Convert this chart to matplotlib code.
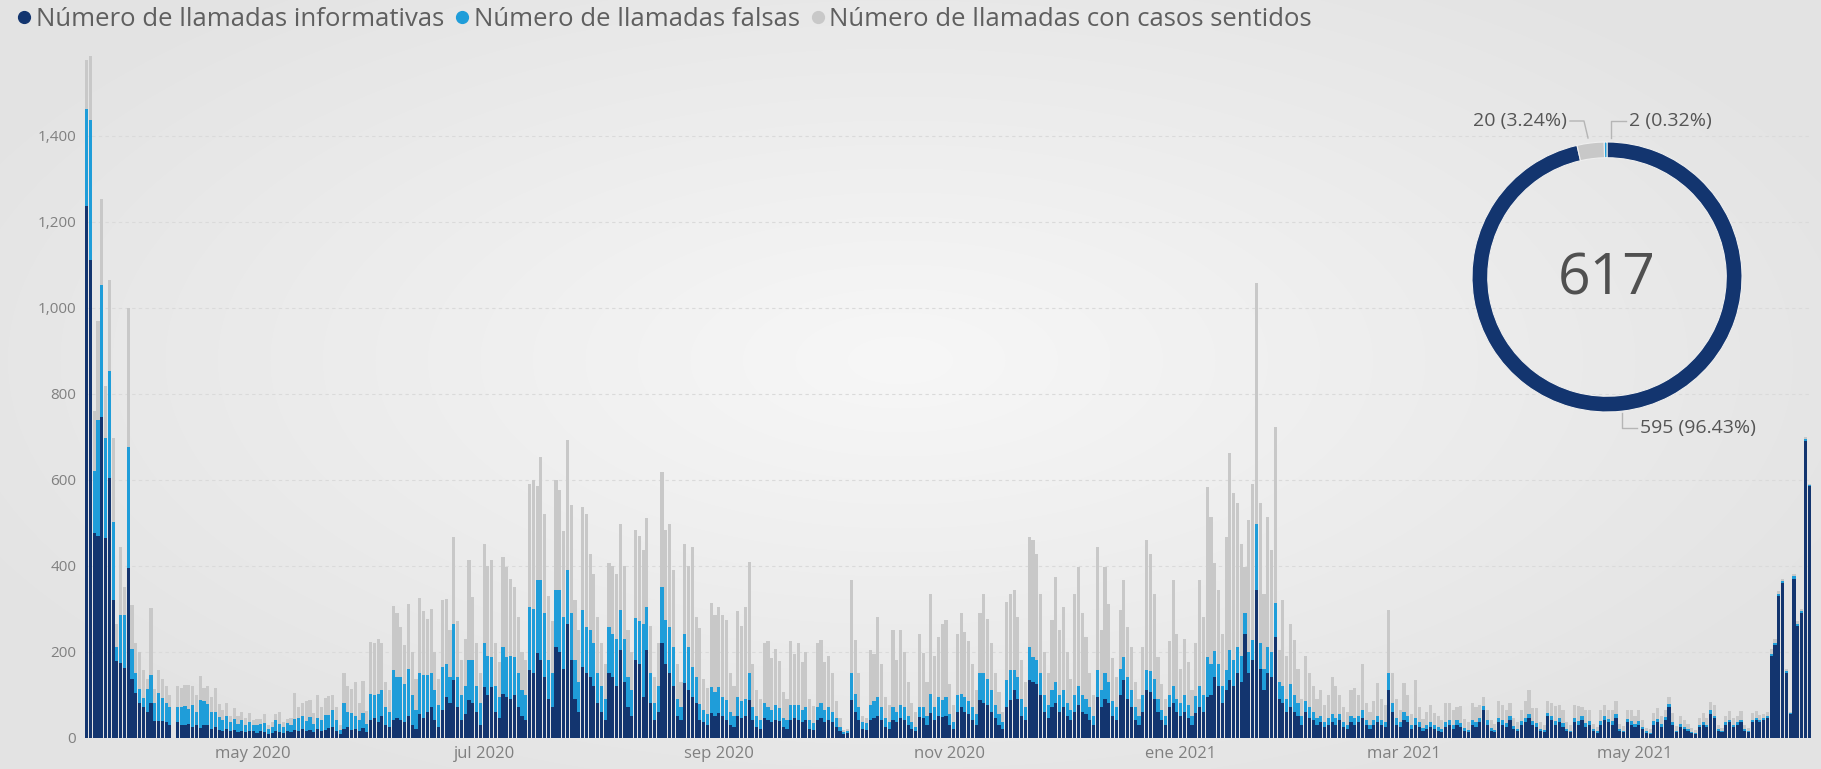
import numpy as np
import pandas as pd
import matplotlib
matplotlib.use("Agg")
import matplotlib.pyplot as plt
import matplotlib.dates as mdates
from matplotlib.lines import Line2D

plt.rcParams['font.family'] = ['Open Sans', 'DejaVu Sans']

# daily series, first bar = 2020-03-18
start_date = "2020-03-18"

informativas = [
    1236, 1112, 475, 470, 745, 464, 605, 319, 178, 173, 162, 394, 135, 103,
    81, 70, 59, 81, 38, 38, 38, 35, 30, 0, 35, 30, 28, 32, 25, 30, 22, 30, 28, 20, 25, 18, 15, 20, 15, 18, 12, 15, 12, 15,
    15, 10, 14, 12, 8, 10, 15, 12, 10, 14, 12, 18, 15, 20, 14, 18, 12, 20, 15, 18, 22, 25, 15, 8, 20, 25, 18, 20, 15, 22, 12,
    40, 45, 35, 50, 30, 25, 40, 45, 40, 35, 50, 30, 20, 55, 45, 60, 70, 40, 25, 65, 95, 80, 133, 70, 40, 55, 87, 80, 60, 30,
    118, 100, 118, 60, 45, 102, 95, 90, 100, 70, 50, 40, 157, 150, 196, 180, 140, 90, 70, 211, 200, 160, 265, 180, 90, 60, 164, 150, 140, 120, 80,
    60, 40, 149, 140, 120, 203, 130, 70, 50, 180, 170, 95, 203, 80, 40, 60, 219, 172, 149, 120, 50, 40, 126, 110, 95, 80, 40, 35, 30, 56, 50,
    56, 50, 40, 30, 25, 50, 45, 50, 87, 40, 25, 20, 45, 40, 35, 40, 38, 25, 20, 40, 45, 40, 35, 40, 20, 18, 40, 45, 35, 40,
    35, 25, 15, 8, 10, 87, 60, 40, 20, 18, 40, 45, 50, 40, 25, 20, 40, 35, 45, 40, 30, 20, 15, 48, 45, 30, 56, 40, 50, 48, 50,
    30, 20, 60, 71, 60, 55, 40, 30, 87, 80, 75, 60, 45, 30, 20, 70, 87, 110, 90, 50, 40, 133, 130, 125, 100, 60, 45, 70, 80, 60,
    70, 50, 40, 60, 75, 60, 55, 40, 30, 95, 70, 90, 80, 50, 40, 100, 133, 90, 70, 40, 30, 60, 110, 105, 90, 60, 40, 30, 70, 80, 60,
    50, 60, 45, 30, 56, 70, 60, 95, 100, 141, 120, 80, 110, 133, 120, 150, 130, 242, 150, 180, 343, 160, 110, 149, 140, 234, 90, 80, 60, 70, 60,
    50, 30, 60, 45, 40, 30, 35, 25, 30, 35, 30, 40, 25, 20, 35, 30, 35, 45, 30, 20, 30, 35, 30, 25, 110, 60, 30, 25,
    40, 35, 20, 30, 25, 15, 20, 25, 20, 15, 12, 25, 30, 20, 30, 25, 15, 12, 30, 25, 35, 64, 30, 15, 12, 35, 30, 25, 40, 20, 15,
    30, 35, 45, 30, 25, 15, 12, 50, 40, 30, 35, 25, 15, 12, 35, 30, 40, 25, 30, 15, 10, 30, 40, 35, 30, 45, 15, 12, 35, 30,
    25, 30, 20, 10, 8, 30, 35, 25, 40, 70, 30, 12, 25, 20, 15, 10, 8, 25, 30, 25, 55, 45, 15, 12, 30, 35, 25, 30, 35, 15, 12,
    35, 40, 35, 40, 45, 190, 215, 330, 360, 150, 55, 370, 260, 290, 690, 585,
]

falsas = [
    227, 324, 146, 270, 308, 233, 248, 183, 32, 113, 124, 281, 70, 48,
    32, 22, 54, 65, 43, 65, 54, 45, 40, 0, 35, 40, 45, 35, 50, 30, 65, 55, 50, 40, 35, 30, 25, 30, 20, 25, 20, 25, 18, 20,
    15, 20, 18, 22, 12, 15, 25, 20, 15, 20, 18, 25, 30, 30, 25, 30, 20, 25, 25, 35, 30, 40, 25, 10, 60, 35, 40, 30, 25, 35, 20,
    62, 55, 67, 60, 40, 35, 117, 95, 100, 90, 110, 70, 45, 95, 100, 85, 80, 70, 50, 100, 77, 60, 132, 70, 60, 65, 93, 100, 60, 50,
    101, 90, 70, 60, 50, 109, 93, 100, 88, 80, 60, 60, 147, 150, 170, 186, 149, 90, 80, 132, 143, 120, 124, 110, 90, 70, 132, 108, 110, 100, 70,
    60, 50, 109, 100, 110, 93, 100, 70, 60, 97, 100, 170, 101, 70, 40, 60, 132, 101, 109, 90, 40, 30, 116, 100, 69, 60, 39, 30, 25, 62, 55,
    62, 45, 47, 30, 25, 45, 40, 40, 62, 30, 25, 20, 35, 30, 30, 35, 30, 20, 20, 35, 30, 35, 30, 30, 20, 15, 30, 35, 30, 30,
    25, 20, 10, 5, 5, 62, 42, 30, 15, 15, 35, 40, 45, 30, 20, 15, 30, 25, 30, 30, 20, 15, 10, 23, 25, 20, 46, 30, 45, 40, 45,
    25, 15, 40, 31, 35, 30, 30, 25, 62, 69, 60, 50, 30, 25, 15, 63, 70, 47, 50, 40, 30, 78, 58, 55, 50, 40, 30, 40, 50, 40,
    40, 30, 25, 40, 45, 40, 35, 30, 20, 62, 40, 59, 50, 35, 30, 60, 55, 50, 40, 30, 20, 40, 47, 50, 45, 30, 25, 20, 30, 40, 30,
    30, 40, 30, 20, 40, 50, 40, 93, 72, 60, 50, 40, 47, 70, 60, 61, 60, 47, 50, 47, 155, 60, 50, 62, 60, 78, 40, 40, 30, 54, 40,
    30, 20, 25, 25, 20, 15, 15, 10, 15, 20, 15, 15, 10, 10, 15, 15, 15, 20, 10, 10, 10, 15, 10, 10, 39, 20, 15, 10,
    20, 15, 10, 15, 10, 8, 10, 10, 8, 10, 8, 10, 10, 8, 10, 8, 8, 6, 10, 10, 10, 10, 10, 6, 5, 10, 10, 8, 10, 6, 5,
    8, 10, 10, 8, 8, 5, 5, 8, 10, 8, 10, 8, 5, 4, 10, 8, 10, 8, 8, 5, 4, 8, 10, 8, 8, 10, 5, 4, 8, 8,
    6, 8, 5, 4, 3, 8, 8, 6, 8, 8, 6, 4, 6, 5, 4, 3, 3, 5, 6, 5, 8, 6, 4, 3, 6, 6, 5, 5, 6, 4, 3,
    6, 6, 5, 5, 5, 5, 5, 5, 5, 5, 3, 5, 5, 5, 5, 3,
]

sentidos = [
    114, 150, 140, 230, 200, 120, 211, 195, 55, 157, 65, 324, 103, 70,
    87, 65, 22, 156, 32, 54, 43, 40, 30, 0, 50, 45, 50, 55, 45, 40, 55, 30, 42, 35, 55, 30, 25, 30, 15, 25, 18, 20, 15, 22,
    10, 12, 10, 20, 8, 10, 15, 28, 12, 10, 15, 60, 25, 30, 45, 40, 25, 55, 30, 40, 45, 35, 30, 10, 70, 60, 55, 80, 40, 75, 30,
    121, 120, 128, 110, 60, 50, 150, 150, 118, 90, 150, 100, 70, 175, 150, 130, 150, 90, 60, 155, 150, 110, 202, 130, 80, 110, 233, 147, 100, 70,
    232, 210, 225, 100, 80, 209, 209, 180, 163, 130, 90, 80, 287, 299, 220, 287, 232, 150, 120, 256, 233, 200, 303, 250, 140, 120, 241, 263, 178, 160, 130,
    100, 80, 147, 160, 150, 202, 170, 110, 90, 206, 200, 171, 206, 110, 60, 100, 267, 210, 240, 180, 80, 60, 209, 190, 280, 140, 175, 70, 60, 194, 180,
    186, 190, 186, 90, 70, 200, 175, 214, 260, 100, 60, 50, 140, 155, 120, 130, 110, 60, 50, 150, 120, 145, 110, 130, 50, 40, 150, 147, 110, 120,
    90, 40, 20, 5, 5, 217, 125, 80, 15, 12, 128, 110, 186, 100, 50, 40, 180, 120, 175, 130, 80, 45, 35, 171, 126, 80, 233, 120, 139, 177, 178,
    70, 40, 140, 187, 150, 140, 100, 55, 140, 186, 140, 110, 75, 50, 25, 183, 178, 186, 140, 90, 60, 256, 271, 248, 185, 100, 75, 163, 244, 150,
    194, 120, 70, 235, 277, 190, 144, 80, 50, 287, 140, 248, 180, 100, 70, 136, 178, 118, 100, 60, 40, 110, 302, 273, 200, 98, 60, 40, 125, 246, 150,
    80, 130, 100, 60, 123, 246, 180, 395, 342, 204, 173, 120, 310, 458, 388, 334, 261, 108, 306, 364, 559, 325, 175, 303, 236, 411, 73, 200, 100, 141, 127,
    80, 40, 105, 80, 60, 45, 60, 40, 55, 85, 75, 45, 35, 30, 60, 70, 50, 107, 40, 30, 45, 76, 50, 40, 147, 70, 45, 30,
    66, 50, 25, 88, 35, 20, 30, 40, 30, 25, 20, 45, 40, 35, 30, 40, 20, 18, 40, 35, 30, 21, 25, 20, 15, 40, 35, 30, 30, 20, 15,
    25, 40, 55, 30, 35, 15, 12, 27, 30, 35, 30, 32, 15, 12, 30, 35, 20, 30, 25, 12, 10, 25, 25, 20, 25, 30, 12, 10, 20, 25,
    20, 25, 15, 8, 8, 20, 25, 20, 15, 17, 20, 10, 20, 15, 12, 8, 6, 15, 20, 15, 20, 25, 10, 8, 15, 20, 15, 15, 20, 10, 8,
    15, 15, 12, 10, 10, 10, 10, 5, 5, 5, 2, 5, 5, 5, 5, 2,
]

series_names = ["Número de llamadas informativas", "Número de llamadas falsas",
                "Número de llamadas con casos sentidos"]

tick_dates = ["2020-05-01", "2020-07-01", "2020-09-01", "2020-11-01",
              "2021-01-01", "2021-03-01", "2021-05-01"]
tick_labels = ["may 2020", "jul 2020", "sep 2020", "nov 2020",
               "ene 2021", "mar 2021", "may 2021"]
y_ticks = [0, 200, 400, 600, 800, 1000, 1200, 1400]

# donut: informativas / con casos sentidos / falsas
donut_values = [595, 20, 2]
donut_total = 617

NAVY = "#13356f"
BLUE = "#1f9dd9"
GRAY = "#c8c8c8"
TXT = "#808080"

W, H = 1821, 769
fig = plt.figure(figsize=(W / 100, H / 100), dpi=100)

# soft gray background gradient
yy, xx = np.mgrid[0:H, 0:W]
d = np.sqrt(((xx - 900) / 1050.0) ** 2 + ((yy - 360) / 480.0) ** 2).clip(0, 1)
shade = (247 - 20 * d) / 255.0
bg = np.dstack([shade, shade, shade])
fig.figimage(bg, xo=0, yo=0, origin="upper", zorder=-5)
fig.patch.set_alpha(0)

ax = fig.add_axes([84.7 / W, 31.5 / H, (1811 - 84.7) / W, (737.5 - 50) / H])
ax.patch.set_alpha(0)

inf = np.array(informativas, dtype=float)
fal = np.array(falsas, dtype=float)
sen = np.array(sentidos, dtype=float)
dates = pd.date_range(start_date, periods=len(inf), freq="D")
x = mdates.date2num(dates)

bw = 0.82
ax.bar(x, inf, width=bw, color=NAVY, linewidth=0)
ax.bar(x, fal, width=bw, bottom=inf, color=BLUE, linewidth=0)
ax.bar(x, sen, width=bw, bottom=inf + fal, color=GRAY, linewidth=0)

ax.set_xlim(x[0] - 0.5, x[-1] + 0.5)
ax.set_ylim(0, 1600)
ax.set_yticks(y_ticks)
ax.set_yticklabels([f"{v:,}" for v in y_ticks])
ax.set_xticks(mdates.date2num(pd.to_datetime(tick_dates)))
ax.set_xticklabels(tick_labels)
ax.tick_params(axis="y", length=0, pad=6, labelsize=11, labelcolor=TXT)
ax.tick_params(axis="x", length=0, pad=6, labelsize=12, labelcolor=TXT)
ax.yaxis.grid(True, color="#dadada", linestyle=(0, (3, 3)), linewidth=0.8)
ax.set_axisbelow(True)
for s in ax.spines.values():
    s.set_visible(False)

# legend
handles = [Line2D([], [], marker="o", ls="", color=c, markersize=8.5)
           for c in (NAVY, BLUE, GRAY)]
fig.legend(handles, series_names, loc="upper left", bbox_to_anchor=(0.0, 1.008),
           ncol=3, frameon=False, fontsize=18.5, labelcolor="#5f5f5f",
           handletextpad=0.0, columnspacing=0.25, borderaxespad=0.1,
           handlelength=0.9)

# donut
cx, cy, half = 1607, 277, 150
dax = fig.add_axes([(cx - half) / W, (H - cy - half) / H, 2 * half / W, 2 * half / H])
dax.pie(donut_values, colors=[NAVY, GRAY, BLUE], startangle=90, counterclock=False,
        radius=0.9, wedgeprops=dict(width=0.105, edgecolor="#efefef", linewidth=0.8))
dax.set_xlim(-1, 1)
dax.set_ylim(-1, 1)
dax.set_aspect("equal")
dax.axis("off")
dax.text(0, -0.02, str(donut_total), ha="center", va="center", fontsize=41, color="#505050")

# donut labels in pixel space
ov = fig.add_axes([0, 0, 1, 1])
ov.set_xlim(0, W)
ov.set_ylim(H, 0)
ov.axis("off")
pct = [v / donut_total * 100 for v in donut_values]
lc = "#b5b5b5"
lab_kw = dict(fontsize=14, color="#555555", va="center")
ov.plot([1570, 1584, 1588], [121, 121, 138], color=lc, lw=1)
ov.text(1567, 121, f"{donut_values[1]} ({pct[1]:.2f}%)", ha="right", **lab_kw)
ov.plot([1626, 1611, 1611], [121, 121, 138], color=lc, lw=1)
ov.text(1629, 121, f"{donut_values[2]} ({pct[2]:.2f}%)", ha="left", **lab_kw)
ov.plot([1622, 1622, 1637], [413, 428, 428], color=lc, lw=1)
ov.text(1640, 428, f"{donut_values[0]} ({pct[0]:.2f}%)", ha="left", **lab_kw)

fig.savefig("out.png", dpi=100)
